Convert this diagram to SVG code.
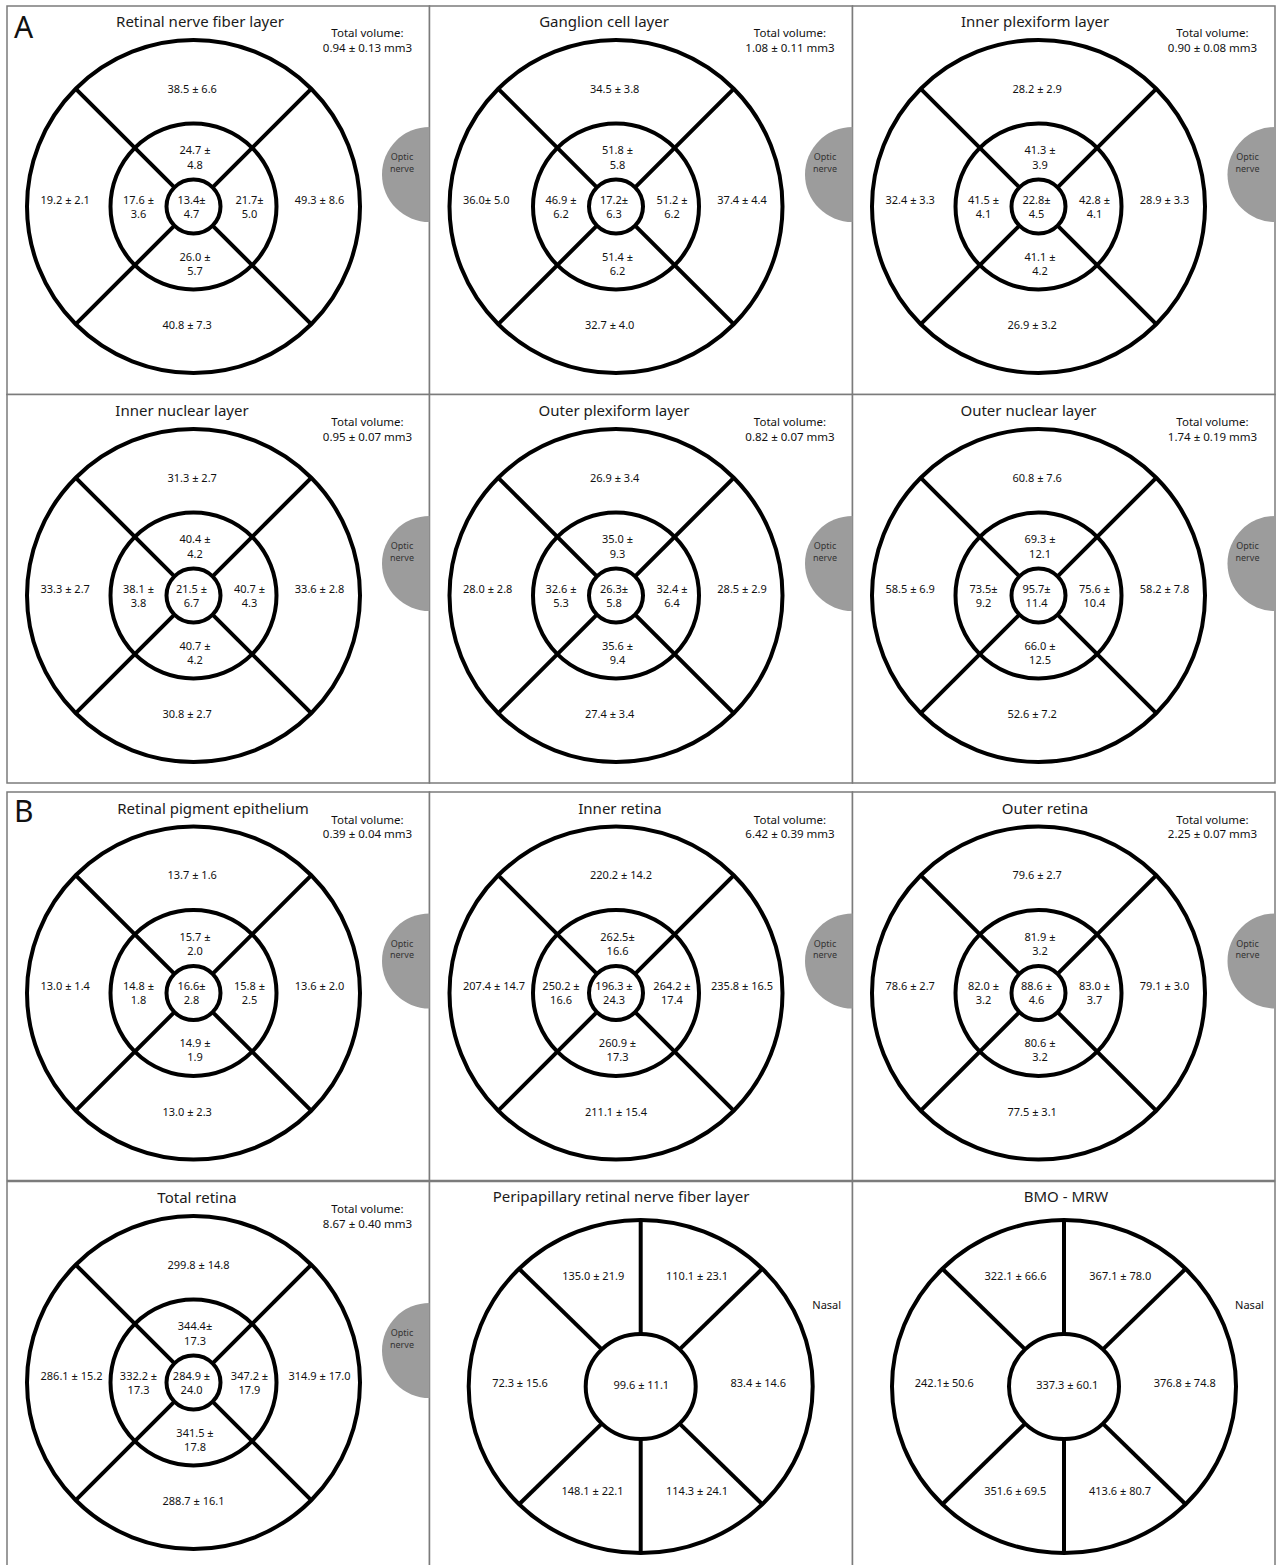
<svg xmlns="http://www.w3.org/2000/svg" xmlns:xlink="http://www.w3.org/1999/xlink" width="1276" height="1565" viewBox="0 0 1276 1565">
<style>
text{font-family:"Noto Sans","Liberation Sans",sans-serif;fill:#111}
.ttl{font-size:15px;text-anchor:middle;fill:#1a1a1a}
.tv{font-size:11.5px;text-anchor:middle}
.v{font-size:11px;text-anchor:middle}
.s{text-anchor:start}
.on{font-size:9px;text-anchor:middle;fill:#333}
.lab{font-size:30px;fill:#111}
.panel{fill:#fff;stroke:#7b7b7b;stroke-width:1.5}
.grid{fill:none;stroke:#000;stroke-width:4}
.optic{fill:#9c9c9c}
</style>
<defs>
<g id="ring4" class="grid">
<circle r="166.5"/><circle r="83"/><circle r="27"/>
<line x1="-19.1" y1="-19.1" x2="-117.7" y2="-117.7"/>
<line x1="19.1" y1="-19.1" x2="117.7" y2="-117.7"/>
<line x1="-19.1" y1="19.1" x2="-117.7" y2="117.7"/>
<line x1="19.1" y1="19.1" x2="117.7" y2="117.7"/>
</g>
<g id="ring6" class="grid">
<ellipse rx="172" ry="166.5"/><ellipse rx="55" ry="52.5"/>
<line x1="0" y1="-166.5" x2="0" y2="-52.5"/>
<line x1="0" y1="52.5" x2="0" y2="166.5"/>
<line x1="-38.9" y1="-37.1" x2="-121.6" y2="-117.7"/>
<line x1="38.9" y1="-37.1" x2="121.6" y2="-117.7"/>
<line x1="-38.9" y1="37.1" x2="-121.6" y2="117.7"/>
<line x1="38.9" y1="37.1" x2="121.6" y2="117.7"/>
</g>
<path id="optic" class="optic" d="M0,-47.5 A47.5,47.5 0 0 0 0,47.5 Z"/>
</defs>
<rect width="1276" height="1565" fill="#fff"/>
<g id="frames">
<rect class="panel" x="7" y="6" width="422.5" height="388.5"/>
<rect class="panel" x="429.5" y="6" width="423" height="388.5"/>
<rect class="panel" x="852.5" y="6" width="422.5" height="388.5"/>
<rect class="panel" x="7" y="394.5" width="422.5" height="388.5"/>
<rect class="panel" x="429.5" y="394.5" width="423" height="388.5"/>
<rect class="panel" x="852.5" y="394.5" width="422.5" height="388.5"/>
<rect class="panel" x="7" y="792" width="422.5" height="388.5"/>
<rect class="panel" x="429.5" y="792" width="423" height="388.5"/>
<rect class="panel" x="852.5" y="792" width="422.5" height="388.5"/>
<rect class="panel" x="7" y="1181.5" width="422.5" height="390"/>
<rect class="panel" x="429.5" y="1181.5" width="423" height="390"/>
<rect class="panel" x="852.5" y="1181.5" width="422.5" height="390"/>
</g>
<text class="lab" x="14" y="38">A</text>
<text class="lab" x="14" y="822">B</text>

<g id="rnfl" transform="translate(193.5,206.5)">
<use href="#optic" x="236" y="-32"/><text class="on" x="208.5" y="-46.5">Optic</text><text class="on" x="208.5" y="-35">nerve</text>
<use href="#ring4"/>
<text class="ttl" x="6.5" y="-179.5">Retinal nerve fiber layer</text>
<text class="tv" x="174" y="-169.5">Total volume:</text><text class="tv" x="174" y="-155">0.94 ± 0.13 mm3</text>
<text class="v s" x="-26" y="-114">38.5 ± 6.6</text>
<text class="v s" x="-153" y="-3">19.2 ± 2.1</text>
<text class="v" x="126" y="-3">49.3 ± 8.6</text>
<text class="v s" x="-31" y="122.5">40.8 ± 7.3</text>
<text class="v" x="1.5" y="-52.5">24.7 ±</text><text class="v" x="1.5" y="-38">4.8</text>
<text class="v" x="-55" y="-3">17.6 ±</text><text class="v" x="-55" y="11">3.6</text>
<text class="v" x="-2" y="-3">13.4±</text><text class="v" x="-2" y="11">4.7</text>
<text class="v" x="56" y="-3">21.7±</text><text class="v" x="56" y="11">5.0</text>
<text class="v" x="1.5" y="54">26.0 ±</text><text class="v" x="1.5" y="68">5.7</text>
</g>

<g id="gcl" transform="translate(616,206.5)">
<use href="#optic" x="236.5" y="-32"/><text class="on" x="209" y="-46.5">Optic</text><text class="on" x="209" y="-35">nerve</text>
<use href="#ring4"/>
<text class="ttl" x="-12" y="-179.5">Ganglion cell layer</text>
<text class="tv" x="174" y="-169.5">Total volume:</text><text class="tv" x="174" y="-155">1.08 ± 0.11 mm3</text>
<text class="v s" x="-26" y="-114">34.5 ± 3.8</text>
<text class="v s" x="-153" y="-3">36.0± 5.0</text>
<text class="v" x="126" y="-3">37.4 ± 4.4</text>
<text class="v s" x="-31" y="122.5">32.7 ± 4.0</text>
<text class="v" x="1.5" y="-52.5">51.8 ±</text><text class="v" x="1.5" y="-38">5.8</text>
<text class="v" x="-55" y="-3">46.9 ±</text><text class="v" x="-55" y="11">6.2</text>
<text class="v" x="-2" y="-3">17.2±</text><text class="v" x="-2" y="11">6.3</text>
<text class="v" x="56" y="-3">51.2 ±</text><text class="v" x="56" y="11">6.2</text>
<text class="v" x="1.5" y="54">51.4 ±</text><text class="v" x="1.5" y="68">6.2</text>
</g>

<g id="ipl" transform="translate(1038.5,206.5)">
<use href="#optic" x="236.5" y="-32"/><text class="on" x="209" y="-46.5">Optic</text><text class="on" x="209" y="-35">nerve</text>
<use href="#ring4"/>
<text class="ttl" x="-3.5" y="-179.5">Inner plexiform layer</text>
<text class="tv" x="174" y="-169.5">Total volume:</text><text class="tv" x="174" y="-155">0.90 ± 0.08 mm3</text>
<text class="v s" x="-26" y="-114">28.2 ± 2.9</text>
<text class="v s" x="-153" y="-3">32.4 ± 3.3</text>
<text class="v" x="126" y="-3">28.9 ± 3.3</text>
<text class="v s" x="-31" y="122.5">26.9 ± 3.2</text>
<text class="v" x="1.5" y="-52.5">41.3 ±</text><text class="v" x="1.5" y="-38">3.9</text>
<text class="v" x="-55" y="-3">41.5 ±</text><text class="v" x="-55" y="11">4.1</text>
<text class="v" x="-2" y="-3">22.8±</text><text class="v" x="-2" y="11">4.5</text>
<text class="v" x="56" y="-3">42.8 ±</text><text class="v" x="56" y="11">4.1</text>
<text class="v" x="1.5" y="54">41.1 ±</text><text class="v" x="1.5" y="68">4.2</text>
</g>

<g id="inl" transform="translate(193.5,595.5)">
<use href="#optic" x="236" y="-32"/><text class="on" x="208.5" y="-46.5">Optic</text><text class="on" x="208.5" y="-35">nerve</text>
<use href="#ring4"/>
<text class="ttl" x="-11.5" y="-179.5">Inner nuclear layer</text>
<text class="tv" x="174" y="-169.5">Total volume:</text><text class="tv" x="174" y="-155">0.95 ± 0.07 mm3</text>
<text class="v s" x="-26" y="-114">31.3 ± 2.7</text>
<text class="v s" x="-153" y="-3">33.3 ± 2.7</text>
<text class="v" x="126" y="-3">33.6 ± 2.8</text>
<text class="v s" x="-31" y="122.5">30.8 ± 2.7</text>
<text class="v" x="1.5" y="-52.5">40.4 ±</text><text class="v" x="1.5" y="-38">4.2</text>
<text class="v" x="-55" y="-3">38.1 ±</text><text class="v" x="-55" y="11">3.8</text>
<text class="v" x="-2" y="-3">21.5 ±</text><text class="v" x="-2" y="11">6.7</text>
<text class="v" x="56" y="-3">40.7 ±</text><text class="v" x="56" y="11">4.3</text>
<text class="v" x="1.5" y="54">40.7 ±</text><text class="v" x="1.5" y="68">4.2</text>
</g>

<g id="opl" transform="translate(616,595.5)">
<use href="#optic" x="236.5" y="-32"/><text class="on" x="209" y="-46.5">Optic</text><text class="on" x="209" y="-35">nerve</text>
<use href="#ring4"/>
<text class="ttl" x="-2" y="-179.5">Outer plexiform layer</text>
<text class="tv" x="174" y="-169.5">Total volume:</text><text class="tv" x="174" y="-155">0.82 ± 0.07 mm3</text>
<text class="v s" x="-26" y="-114">26.9 ± 3.4</text>
<text class="v s" x="-153" y="-3">28.0 ± 2.8</text>
<text class="v" x="126" y="-3">28.5 ± 2.9</text>
<text class="v s" x="-31" y="122.5">27.4 ± 3.4</text>
<text class="v" x="1.5" y="-52.5">35.0 ±</text><text class="v" x="1.5" y="-38">9.3</text>
<text class="v" x="-55" y="-3">32.6 ±</text><text class="v" x="-55" y="11">5.3</text>
<text class="v" x="-2" y="-3">26.3±</text><text class="v" x="-2" y="11">5.8</text>
<text class="v" x="56" y="-3">32.4 ±</text><text class="v" x="56" y="11">6.4</text>
<text class="v" x="1.5" y="54">35.6 ±</text><text class="v" x="1.5" y="68">9.4</text>
</g>

<g id="onl" transform="translate(1038.5,595.5)">
<use href="#optic" x="236.5" y="-32"/><text class="on" x="209" y="-46.5">Optic</text><text class="on" x="209" y="-35">nerve</text>
<use href="#ring4"/>
<text class="ttl" x="-10" y="-179.5">Outer nuclear layer</text>
<text class="tv" x="174" y="-169.5">Total volume:</text><text class="tv" x="174" y="-155">1.74 ± 0.19 mm3</text>
<text class="v s" x="-26" y="-114">60.8 ± 7.6</text>
<text class="v s" x="-153" y="-3">58.5 ± 6.9</text>
<text class="v" x="126" y="-3">58.2 ± 7.8</text>
<text class="v s" x="-31" y="122.5">52.6 ± 7.2</text>
<text class="v" x="1.5" y="-52.5">69.3 ±</text><text class="v" x="1.5" y="-38">12.1</text>
<text class="v" x="-55" y="-3">73.5±</text><text class="v" x="-55" y="11">9.2</text>
<text class="v" x="-2" y="-3">95.7±</text><text class="v" x="-2" y="11">11.4</text>
<text class="v" x="56" y="-3">75.6 ±</text><text class="v" x="56" y="11">10.4</text>
<text class="v" x="1.5" y="54">66.0 ±</text><text class="v" x="1.5" y="68">12.5</text>
</g>

<g id="rpe" transform="translate(193.5,993)">
<use href="#optic" x="236" y="-32"/><text class="on" x="208.5" y="-46.5">Optic</text><text class="on" x="208.5" y="-35">nerve</text>
<use href="#ring4"/>
<text class="ttl" x="19.5" y="-179.5">Retinal pigment epithelium</text>
<text class="tv" x="174" y="-169.5">Total volume:</text><text class="tv" x="174" y="-155">0.39 ± 0.04 mm3</text>
<text class="v s" x="-26" y="-114">13.7 ± 1.6</text>
<text class="v s" x="-153" y="-3">13.0 ± 1.4</text>
<text class="v" x="126" y="-3">13.6 ± 2.0</text>
<text class="v s" x="-31" y="122.5">13.0 ± 2.3</text>
<text class="v" x="1.5" y="-52.5">15.7 ±</text><text class="v" x="1.5" y="-38">2.0</text>
<text class="v" x="-55" y="-3">14.8 ±</text><text class="v" x="-55" y="11">1.8</text>
<text class="v" x="-2" y="-3">16.6±</text><text class="v" x="-2" y="11">2.8</text>
<text class="v" x="56" y="-3">15.8 ±</text><text class="v" x="56" y="11">2.5</text>
<text class="v" x="1.5" y="54">14.9 ±</text><text class="v" x="1.5" y="68">1.9</text>
</g>

<g id="inner-retina" transform="translate(616,993)">
<use href="#optic" x="236.5" y="-32"/><text class="on" x="209" y="-46.5">Optic</text><text class="on" x="209" y="-35">nerve</text>
<use href="#ring4"/>
<text class="ttl" x="4" y="-179.5">Inner retina</text>
<text class="tv" x="174" y="-169.5">Total volume:</text><text class="tv" x="174" y="-155">6.42 ± 0.39 mm3</text>
<text class="v s" x="-26" y="-114">220.2 ± 14.2</text>
<text class="v s" x="-153" y="-3">207.4 ± 14.7</text>
<text class="v" x="126" y="-3">235.8 ± 16.5</text>
<text class="v s" x="-31" y="122.5">211.1 ± 15.4</text>
<text class="v" x="1.5" y="-52.5">262.5±</text><text class="v" x="1.5" y="-38">16.6</text>
<text class="v" x="-55" y="-3">250.2 ±</text><text class="v" x="-55" y="11">16.6</text>
<text class="v" x="-2" y="-3">196.3 ±</text><text class="v" x="-2" y="11">24.3</text>
<text class="v" x="56" y="-3">264.2 ±</text><text class="v" x="56" y="11">17.4</text>
<text class="v" x="1.5" y="54">260.9 ±</text><text class="v" x="1.5" y="68">17.3</text>
</g>

<g id="outer-retina" transform="translate(1038.5,993)">
<use href="#optic" x="236.5" y="-32"/><text class="on" x="209" y="-46.5">Optic</text><text class="on" x="209" y="-35">nerve</text>
<use href="#ring4"/>
<text class="ttl" x="6.5" y="-179.5">Outer retina</text>
<text class="tv" x="174" y="-169.5">Total volume:</text><text class="tv" x="174" y="-155">2.25 ± 0.07 mm3</text>
<text class="v s" x="-26" y="-114">79.6 ± 2.7</text>
<text class="v s" x="-153" y="-3">78.6 ± 2.7</text>
<text class="v" x="126" y="-3">79.1 ± 3.0</text>
<text class="v s" x="-31" y="122.5">77.5 ± 3.1</text>
<text class="v" x="1.5" y="-52.5">81.9 ±</text><text class="v" x="1.5" y="-38">3.2</text>
<text class="v" x="-55" y="-3">82.0 ±</text><text class="v" x="-55" y="11">3.2</text>
<text class="v" x="-2" y="-3">88.6 ±</text><text class="v" x="-2" y="11">4.6</text>
<text class="v" x="56" y="-3">83.0 ±</text><text class="v" x="56" y="11">3.7</text>
<text class="v" x="1.5" y="54">80.6 ±</text><text class="v" x="1.5" y="68">3.2</text>
</g>

<g id="total-retina" transform="translate(193.5,1382.5)">
<use href="#optic" x="236" y="-32"/><text class="on" x="208.5" y="-46.5">Optic</text><text class="on" x="208.5" y="-35">nerve</text>
<use href="#ring4"/>
<text class="ttl" x="3.5" y="-179.5">Total retina</text>
<text class="tv" x="174" y="-169.5">Total volume:</text><text class="tv" x="174" y="-155">8.67 ± 0.40 mm3</text>
<text class="v s" x="-26" y="-114">299.8 ± 14.8</text>
<text class="v s" x="-153" y="-3">286.1 ± 15.2</text>
<text class="v" x="126" y="-3">314.9 ± 17.0</text>
<text class="v s" x="-31" y="122.5">288.7 ± 16.1</text>
<text class="v" x="1.5" y="-52.5">344.4±</text><text class="v" x="1.5" y="-38">17.3</text>
<text class="v" x="-55" y="-3">332.2 ±</text><text class="v" x="-55" y="11">17.3</text>
<text class="v" x="-2" y="-3">284.9 ±</text><text class="v" x="-2" y="11">24.0</text>
<text class="v" x="56" y="-3">347.2 ±</text><text class="v" x="56" y="11">17.9</text>
<text class="v" x="1.5" y="54">341.5 ±</text><text class="v" x="1.5" y="68">17.8</text>
</g>

<g id="peripapillary-rnfl" transform="translate(640.7,1386.5)">
<use href="#ring6"/>
<text class="ttl" x="-19.7" y="-184.2">Peripapillary retinal nerve fiber layer</text>
<text class="v" x="-47.5" y="-106.5">135.0 ± 21.9</text>
<text class="v" x="56.3" y="-106.5">110.1 ± 23.1</text>
<text class="v" x="-120.7" y="0.8">72.3 ± 15.6</text>
<text class="v" x="0.6" y="2.5">99.6 ± 11.1</text>
<text class="v" x="117.6" y="0.8">83.4 ± 14.6</text>
<text class="v" x="-48.2" y="108.5">148.1 ± 22.1</text>
<text class="v" x="56.3" y="108.5">114.3 ± 24.1</text>
<text class="v" x="186" y="-77.5">Nasal</text>
</g>

<g id="bmo-mrw" transform="translate(1064,1386.5)">
<use href="#ring6"/>
<text class="ttl" x="2" y="-184.2">BMO - MRW</text>
<text class="v" x="-48.5" y="-106.5">322.1 ± 66.6</text>
<text class="v" x="56.3" y="-106.5">367.1 ± 78.0</text>
<text class="v" x="-119.7" y="0.8">242.1± 50.6</text>
<text class="v" x="3.2" y="2.5">337.3 ± 60.1</text>
<text class="v" x="120.7" y="0.8">376.8 ± 74.8</text>
<text class="v" x="-48.8" y="108.5">351.6 ± 69.5</text>
<text class="v" x="56" y="108.5">413.6 ± 80.7</text>
<text class="v" x="185.5" y="-77.5">Nasal</text>
</g>
</svg>
